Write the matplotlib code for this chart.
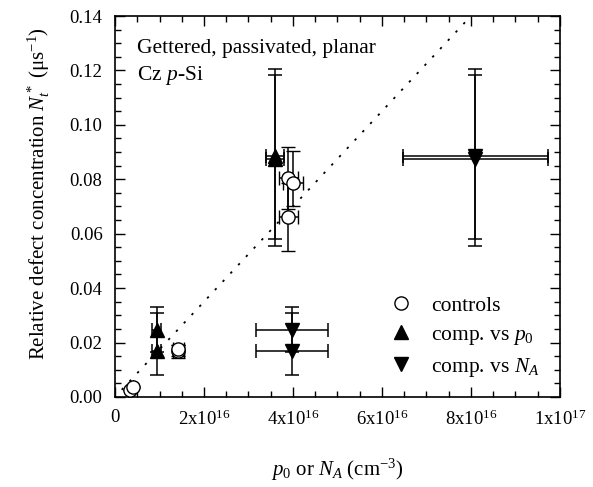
import matplotlib
matplotlib.use("Agg")
import matplotlib.pyplot as plt
import numpy as np
from matplotlib.ticker import MultipleLocator, FixedLocator, FixedFormatter

plt.rcParams['font.family'] = ['Liberation Serif', 'DejaVu Serif']
plt.rcParams['mathtext.fontset'] = 'custom'
plt.rcParams['mathtext.rm'] = 'Liberation Serif'
plt.rcParams['mathtext.it'] = 'Liberation Serif:italic'
plt.rcParams['mathtext.bf'] = 'Liberation Serif:bold'

# ---- data ----
ctrl_x = [0.34e16, 0.40e16, 1.42e16, 1.42e16, 3.90e16, 4.00e16, 3.90e16]
ctrl_y = [0.0026, 0.0035, 0.0168, 0.0175, 0.0805, 0.0785, 0.0660]
ctrl_ylo = [0.0026, 0.0035, 0.0143, 0.0150, 0.0690, 0.0700, 0.0535]
ctrl_yhi = [0.0026, 0.0035, 0.0190, 0.0190, 0.0920, 0.0905, 0.0785]
ctrl_xerr = [0.0, 0.0, 0.12e16, 0.12e16, 0.22e16, 0.22e16, 0.22e16]

p0_x = [0.94e16, 0.94e16, 3.60e16, 3.60e16]
p0_y = [0.0245, 0.0168, 0.0885, 0.0875]
p0_ylo = [0.0165, 0.0080, 0.0580, 0.0555]
p0_yhi = [0.0330, 0.0310, 0.1205, 0.1185]
p0_xerr = [0.10e16, 0.10e16, 0.21e16, 0.21e16]

na_x = [3.98e16, 3.98e16, 8.10e16, 8.10e16]
na_y = [0.0245, 0.0168, 0.0885, 0.0875]
na_ylo = [0.0165, 0.0080, 0.0580, 0.0555]
na_yhi = [0.0330, 0.0310, 0.1205, 0.1185]
na_xerr = [0.81e16, 0.81e16, 1.63e16, 1.63e16]

line_x = [0.15e16, 8.0e16]
line_slope = 1.75e-18

xticks = [0, 2e16, 4e16, 6e16, 8e16, 1e17]
xticklabels = ['0', r'2x10$^{16}$', r'4x10$^{16}$', r'6x10$^{16}$', r'8x10$^{16}$', r'1x10$^{17}$']

# ---- figure ----
fig = plt.figure(figsize=(5.93, 4.87), dpi=100)
ax = fig.add_axes([0.194, 0.185, 0.750, 0.782])

lx = np.array(line_x)
ax.plot(lx, line_slope * lx, linestyle=(0, (1.3, 5)), color='black', lw=1.3, zorder=1)

ekw = dict(ecolor='black', elinewidth=1.1, capsize=5, capthick=1.1, linestyle='none')

def yerr(y, lo, hi):
    y = np.array(y); return [y - np.array(lo), np.array(hi) - y]

ax.errorbar(ctrl_x, ctrl_y, yerr=yerr(ctrl_y, ctrl_ylo, ctrl_yhi), xerr=ctrl_xerr,
            marker='o', ms=9.5, mfc='white', mec='black', mew=1.0, zorder=3, **ekw)
ax.errorbar(p0_x, p0_y, yerr=yerr(p0_y, p0_ylo, p0_yhi), xerr=p0_xerr,
            marker='^', ms=9.5, mfc='black', mec='black', zorder=3, **ekw)
ax.errorbar(na_x, na_y, yerr=yerr(na_y, na_ylo, na_yhi), xerr=na_xerr,
            marker='v', ms=9.5, mfc='black', mec='black', zorder=3, **ekw)

# legend proxies
h1, = ax.plot([], [], 'o', ms=9.5, mfc='white', mec='black', mew=1.0, ls='none')
h2, = ax.plot([], [], '^', ms=9.5, mfc='black', mec='black', ls='none')
h3, = ax.plot([], [], 'v', ms=9.5, mfc='black', mec='black', ls='none')
ax.legend([h1, h2, h3], ['controls', r'comp. vs $p_0$', r'comp. vs $N_A$'],
          loc='lower left', bbox_to_anchor=(0.57, -0.003), frameon=False,
          fontsize=15.5, handletextpad=0.8, labelspacing=0.42, handlelength=1.2)

ax.text(0.05, 0.915, 'Gettered, passivated, planar', transform=ax.transAxes,
        fontsize=15.5, va='center', ha='left')
ax.text(0.05, 0.845, r'Cz $p$-Si', transform=ax.transAxes,
        fontsize=15.5, va='center', ha='left')

ax.set_xlim(0, 1e17)
ax.set_ylim(0, 0.14)
ax.xaxis.set_major_locator(FixedLocator(xticks))
ax.xaxis.set_major_formatter(FixedFormatter(xticklabels))
ax.xaxis.set_minor_locator(MultipleLocator(0.5e16))
ax.yaxis.set_major_locator(MultipleLocator(0.02))
ax.yaxis.set_minor_locator(MultipleLocator(0.005))
ax.yaxis.set_major_formatter(matplotlib.ticker.FormatStrFormatter('%.2f'))

ax.tick_params(which='both', direction='in', top=True, right=True, labelsize=13.5, color='black')
ax.tick_params(which='major', length=7, width=1.0, pad=9)
ax.tick_params(which='minor', length=4, width=1.0)
for s in ax.spines.values():
    s.set_linewidth(1.2)

ax.set_xlabel(r'$p_0$ or $N_A$ (cm$^{-3}$)', fontsize=15, labelpad=20)
ax.set_ylabel(r'Relative defect concentration $N_t^*$ ($\mathrm{\mu}$s$^{-1}$)', fontsize=15)
ax.yaxis.set_label_coords(-0.142, 0.535)

fig.savefig('out.png', dpi=100)
